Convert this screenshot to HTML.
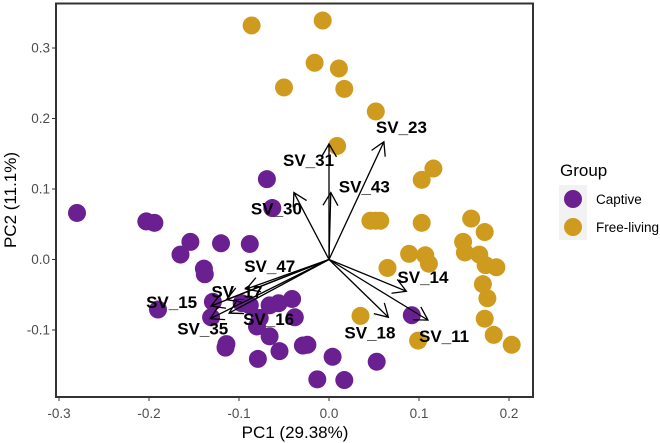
<!DOCTYPE html>
<html>
<head>
<meta charset="utf-8">
<title>PCA biplot</title>
<style>
html,body{margin:0;padding:0;background:#fff;width:660px;height:443px;overflow:hidden}
svg{display:block;font-family:"Liberation Sans",sans-serif}
.tick{font-size:13.5px;fill:#4d4d4d}
.axis-title{font-size:17px;fill:#000}
.vec-label{font-size:17px;font-weight:bold;fill:#000}
</style>
</head>
<body>
<svg id="chart" width="660" height="443" viewBox="0 0 660 443">
  <g id="points"></g>
  <g id="arrows"></g>
  <g id="vec-labels"></g>
  <rect x="56" y="3.5" width="477" height="393.5" fill="none" stroke="#333" stroke-width="2"/>
  <g id="ticks"></g>
  <text x="295" y="438" text-anchor="middle" class="axis-title">PC1 (29.38%)</text>
  <text transform="translate(16,200) rotate(-90)" text-anchor="middle" class="axis-title">PC2 (11.1%)</text>
  <g>
    <text x="560" y="176" font-size="17" fill="#000">Group</text>
    <rect x="559" y="185" width="28" height="55" fill="#f2f2f2"/>
    <circle cx="573" cy="199" r="9" fill="#6a2091"/>
    <circle cx="573" cy="227" r="9" fill="#cf9b1e"/>
    <text x="596" y="204" font-size="13.5" fill="#000">Captive</text>
    <text x="596" y="232" font-size="13.5" fill="#000">Free-living</text>
  </g>
</svg>
<script>
const freeX = [-0.086,-0.050,-0.007,-0.016,0.011,0.017,0.052,0.009,0.116,0.103,0.046,0.052,0.057,0.103,0.158,0.173,0.149,0.151,0.167,0.174,0.186,0.089,0.107,0.111,0.065,0.171,0.176,0.173,0.183,0.203,0.035,0.099];
const freeY = [0.332,0.244,0.339,0.279,0.271,0.242,0.210,0.161,0.129,0.113,0.055,0.055,0.055,0.052,0.058,0.039,0.025,0.010,0.007,-0.008,-0.011,0.008,0.006,-0.006,-0.012,-0.035,-0.055,-0.084,-0.107,-0.121,-0.080,-0.115];
const captiveX = [-0.069,-0.063,-0.280,-0.203,-0.194,-0.154,-0.165,-0.120,-0.088,-0.139,-0.138,-0.190,-0.129,-0.131,-0.114,-0.115,-0.079,-0.055,-0.066,-0.080,-0.097,-0.088,-0.066,-0.056,-0.041,-0.038,-0.077,-0.029,-0.024,0.004,-0.013,0.017,0.053,0.092];
const captiveY = [0.114,0.073,0.066,0.054,0.052,0.025,0.007,0.023,0.022,-0.013,-0.021,-0.071,-0.060,-0.082,-0.120,-0.125,-0.141,-0.130,-0.109,-0.095,-0.062,-0.065,-0.065,-0.062,-0.056,-0.082,-0.083,-0.122,-0.121,-0.138,-0.170,-0.171,-0.145,-0.079];
const loadingNames = ["SV_23","SV_31","SV_43","SV_30","SV_14","SV_18","SV_11","SV_47","SV_17","SV_16","SV_15","SV_35"];
const loadingX = [0.061,0,0.002,-0.039,0.086,0.066,0.110,-0.092,-0.114,-0.111,-0.131,-0.132];
const loadingY = [0.167,0.164,0.095,0.095,-0.045,-0.082,-0.086,-0.042,-0.057,-0.076,-0.066,-0.084];
const labelDx = [-8,-46,8,-43,-9,-44,-9,-2,-15,14,-65,-33];
const labelDy = [-9,22,0,22,-8,21,22,-17,-2,12,2,16];
const xTicks = [-0.3,-0.2,-0.1,0.0,0.1,0.2];
const yTicks = [0.3,0.2,0.1,0.0,-0.1];

const NS = "http://www.w3.org/2000/svg";
const xScale = v => 329 + 900 * v;
const yScale = v => 259.5 - 705 * v;
function make(tag, parent, attrs) {
  const el = document.createElementNS(NS, tag);
  for (const k in attrs) el.setAttribute(k, attrs[k]);
  parent.appendChild(el);
  return el;
}
const pointsG = document.getElementById("points");
captiveX.forEach((v, i) => {
  const c = make("circle", pointsG, {cx: xScale(v), cy: yScale(captiveY[i]), r: 9, fill: "#6a2091"});
  
  
});
freeX.forEach((v, i) => {
  const c = make("circle", pointsG, {cx: xScale(v), cy: yScale(freeY[i]), r: 9, fill: "#cf9b1e"});
  
  
});
const arrowsG = document.getElementById("arrows");
const labelsG = document.getElementById("vec-labels");
loadingNames.forEach((n, i) => {
  const x0 = xScale(0), y0 = yScale(0), x1 = xScale(loadingX[i]), y1 = yScale(loadingY[i]);
  const a = Math.atan2(y1 - y0, x1 - x0), L = 15, w = Math.PI / 6;
  const p = make("path", arrowsG, {
    d: `M${x0} ${y0}L${x1} ${y1}M${x1 - L * Math.cos(a - w)} ${y1 - L * Math.sin(a - w)}L${x1} ${y1}L${x1 - L * Math.cos(a + w)} ${y1 - L * Math.sin(a + w)}`,
    fill: "none", stroke: "#000", "stroke-width": 1.3
  });
  
  
  const t = make("text", labelsG, {x: x1 + labelDx[i], y: y1 + labelDy[i], class: "vec-label"});
  t.textContent = n;
  
  
});
const ticksG = document.getElementById("ticks");
xTicks.forEach(v => {
  const x = xScale(v);
  const l = make("line", ticksG, {x1: x, x2: x, y1: 397, y2: 401, stroke: "#333", "stroke-width": 1});
  
  
  const t = make("text", ticksG, {x: x, y: 418, "text-anchor": "middle", class: "tick"});
  t.textContent = v.toFixed(1);
  
  
});
yTicks.forEach(v => {
  const y = yScale(v);
  const l = make("line", ticksG, {x1: 52, x2: 56, y1: y, y2: y, stroke: "#333", "stroke-width": 1});
  
  
  const t = make("text", ticksG, {x: 50, y: y + 4.5, "text-anchor": "end", class: "tick"});
  t.textContent = v.toFixed(1);
  
  
});
</script>
</body>
</html>
